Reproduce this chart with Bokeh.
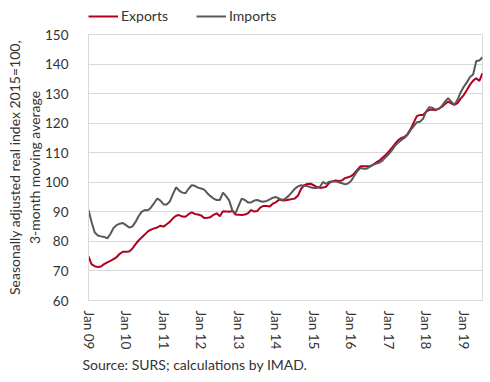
from bokeh.plotting import figure
from bokeh.models import Range1d, FixedTicker, Legend, LegendItem, Title
from bokeh.layouts import column
from bokeh.embed import file_html
from bokeh.resources import INLINE

# Monthly data, Jan 2009 .. Jul 2019
exports = [74.9, 72.2, 71.6, 71.3, 71.5, 72.3, 72.9, 73.4, 74.0, 74.7, 75.8, 76.5,
           76.5, 76.6, 77.5, 79.0, 80.3, 81.3, 82.3, 83.4, 84.0, 84.4, 84.7, 85.3,
           85.0, 85.8, 86.6, 87.8, 88.7, 88.9, 88.4, 88.3, 89.2, 89.8, 89.3, 89.1,
           88.8, 87.9, 88.0, 88.2, 89.0, 89.5, 88.5, 90.2, 90.1, 90.0, 90.3, 89.1,
           89.0, 88.9, 89.1, 89.5, 90.6, 90.1, 90.3, 91.5, 92.0, 92.0, 91.8, 92.8,
           93.3, 94.2, 93.8, 93.9, 94.1, 94.3, 94.5, 95.5, 97.8, 99.0, 99.4, 99.5,
           99.0, 98.4, 98.1, 98.2, 98.5, 99.8, 100.3, 100.6, 100.4, 100.6, 101.4, 101.7,
           102.1, 103.0, 104.3, 105.4, 105.4, 105.4, 105.4, 106.0, 106.7, 107.3, 108.3, 109.2,
           110.4, 111.6, 113.0, 114.2, 115.0, 115.3, 116.3, 118.0, 120.2, 122.4, 122.8, 122.8,
           123.9, 124.5, 124.5, 124.4, 124.9, 125.5, 126.5, 127.3, 126.7, 126.2, 126.8, 128.3,
           129.5, 131.2, 133.0, 134.4, 135.2, 134.3, 136.9]
imports = [90.6, 86.5, 83.0, 82.0, 81.7, 81.5, 81.0, 82.5, 84.5, 85.5, 86.0, 86.2,
           85.5, 84.7, 85.0, 86.5, 88.5, 90.0, 90.6, 90.5, 91.5, 93.0, 94.5, 93.8,
           92.5, 92.5, 93.5, 96.0, 98.3, 97.2, 96.5, 96.3, 97.8, 99.0, 98.8, 98.2,
           97.9, 97.5, 96.3, 95.3, 94.5, 94.0, 94.0, 96.5, 95.3, 93.8, 90.5, 89.5,
           92.0, 94.5, 94.0, 93.2, 93.2, 93.8, 94.0, 93.6, 93.4, 93.7, 94.2, 94.8,
           95.0, 94.5, 94.0, 94.5, 95.4, 96.6, 97.8, 98.6, 99.0, 98.8, 98.7, 98.3,
           98.1, 98.1, 98.5, 100.1, 99.5, 100.2, 100.3, 100.3, 100.0, 99.7, 99.3, 99.6,
           100.5, 102.2, 103.8, 104.8, 104.6, 104.6, 105.3, 105.9, 106.3, 106.6, 107.3, 108.5,
           109.5, 110.8, 112.3, 113.4, 114.2, 115.0, 116.0, 117.6, 119.0, 120.3, 120.5, 121.5,
           124.0, 125.4, 125.2, 124.6, 124.8, 125.8, 127.3, 128.5, 127.3, 126.2, 127.9, 130.4,
           132.3, 133.8, 135.6, 136.5, 141.0, 141.2, 142.3]
months = list(range(len(exports)))
tick_positions = [0, 12, 24, 36, 48, 60, 72, 84, 96, 108, 120]
tick_labels = ["Jan 09", "Jan 10", "Jan 11", "Jan 12", "Jan 13", "Jan 14",
               "Jan 15", "Jan 16", "Jan 17", "Jan 18", "Jan 19"]
y_ticks = [60, 70, 80, 90, 100, 110, 120, 130, 140, 150]

FONT = "Lato"
TXT = "#333333"
GRID = "#d9d9d9"
RED = "#b0001e"
GREY = "#595959"

# ---- main chart ----
p = figure(width=483, height=348, output_backend="svg", toolbar_location=None,
           x_range=Range1d(0, len(exports) - 1), y_range=Range1d(60, 150),
           min_border_left=86, min_border_right=1, min_border_top=8,
           min_border_bottom=73)
p.outline_line_color = GRID
p.background_fill_color = "white"
p.border_fill_color = "white"

p.xgrid.visible = False
p.ygrid.grid_line_color = GRID
p.ygrid.grid_line_width = 1

p.xaxis.ticker = FixedTicker(ticks=tick_positions)
p.xaxis.major_label_overrides = {t: l for t, l in zip(tick_positions, tick_labels)}
p.xaxis.major_label_orientation = "vertical"
p.yaxis.ticker = FixedTicker(ticks=y_ticks)
for ax in (p.xaxis[0], p.yaxis[0]):
    ax.axis_line_color = GRID
    ax.major_tick_line_color = None
    ax.minor_tick_line_color = None
    ax.major_label_text_font = FONT
    ax.major_label_text_font_size = "13.5px"
    ax.major_label_text_color = TXT
p.xaxis.major_label_standoff = 4
p.yaxis.major_label_standoff = 14

p.line(months, exports, line_color=RED, line_width=2)
p.line(months, imports, line_color=GREY, line_width=2)

# y-axis title, two lines (inner line added first)
t2 = Title(text="3-month moving average", align="center", standoff=0,
           text_font=FONT, text_font_size="14px", text_font_style="normal",
           text_color=TXT)
t1 = Title(text="Seasonally adjusted real index 2015=100,", align="center",
           standoff=1, text_font=FONT, text_font_size="14px",
           text_font_style="normal", text_color=TXT)
p.add_layout(t2, "left")
p.add_layout(t1, "left")

src = Title(text="Source: SURS; calculations by IMAD.", align="left", offset=-6,
            standoff=3, text_font=FONT, text_font_size="14px",
            text_font_style="normal", text_color=TXT)
p.add_layout(src, "below")

# ---- legend strip above the chart ----
lg = figure(width=483, height=26, output_backend="svg", toolbar_location=None,
            x_range=Range1d(0, len(exports) - 1), y_range=Range1d(0, 1),
            min_border_left=88, min_border_right=0, min_border_top=7,
            min_border_bottom=0, x_axis_location=None, y_axis_location=None)
lg.outline_line_color = None
lg.xgrid.visible = False
lg.ygrid.visible = False
le = lg.line(months, exports, line_color=RED, line_width=2)
li = lg.line(months, imports, line_color=GREY, line_width=2)
legend = Legend(items=[LegendItem(label="Exports", renderers=[le]),
                       LegendItem(label="Imports", renderers=[li])],
                orientation="horizontal", location="top_left",
                label_text_font=FONT, label_text_font_size="14px",
                label_text_color=TXT, glyph_width=30, glyph_height=14,
                label_standoff=3, spacing=28, padding=0, margin=0,
                border_line_color=None, background_fill_alpha=0)
lg.add_layout(legend)

layout = column(lg, p, spacing=0)
open("out.html", "w").write(file_html(layout, INLINE))
